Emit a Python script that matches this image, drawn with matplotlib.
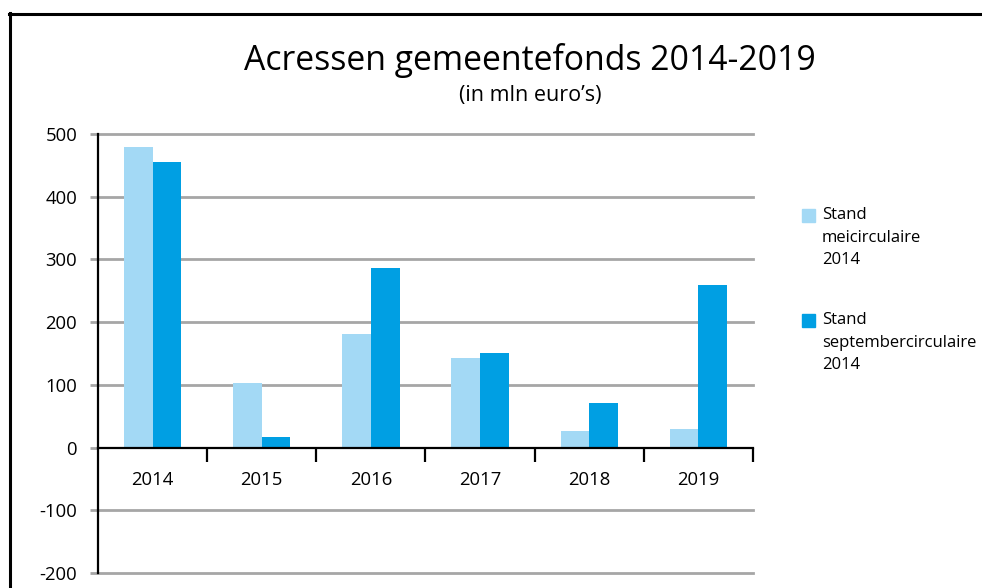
import matplotlib.pyplot as plt
from matplotlib.lines import Line2D
from matplotlib.patches import Rectangle

# data
years = ["2014", "2015", "2016", "2017", "2018", "2019"]
mei = [480, 103, 181, 143, 27, 30]
september = [455, 17, 286, 151, 71, 260]
legend_labels = ["Stand\nmeicirculaire\n2014", "Stand\nseptembercirculaire\n2014"]

light = "#a3d9f5"
dark = "#009fe3"
grid_col = "#a6a6a6"

plt.rcParams['font.family'] = ['Open Sans', 'DejaVu Sans']

fig = plt.figure(figsize=(9.82, 5.88), dpi=100)
ax = fig.add_axes([98/982, 1 - 573/588, (753 - 98)/982, (573 - 134)/588])

x = list(range(len(years)))
w = 0.262
ax.bar([i - w/2 for i in x], mei, width=w, color=light, zorder=3)
ax.bar([i + w/2 for i in x], september, width=w, color=dark, zorder=3)

ax.set_xlim(-0.5, len(years) - 0.5)
ax.set_ylim(-200, 500)

# grid lines
for v in [-200, -100, 100, 200, 300, 400, 500]:
    ax.axhline(v, color=grid_col, lw=2, zorder=1, clip_on=False)

ax.spines['top'].set_visible(False)
ax.spines['right'].set_visible(False)
ax.spines['left'].set_linewidth(1.6)
ax.spines['left'].set_zorder(4)
ax.spines['bottom'].set_position(('data', 0))
ax.spines['bottom'].set_linewidth(1.6)
ax.spines['bottom'].set_zorder(4)

ax.set_yticks([-200, -100, 0, 100, 200, 300, 400, 500])
ax.set_yticklabels(["-200", "-100", "0", "100", "200", "300", "400", "500"])
ax.tick_params(axis='y', length=6, width=2, color=grid_col, labelsize=13.3, pad=9)

ax.set_xticks([i + 0.5 for i in x])
ax.set_xticklabels([])
ax.set_xticks(x, minor=True)
ax.set_xticklabels(years, minor=True)
ax.tick_params(axis='x', which='major', direction='out', length=10, width=1.6, color='black')
ax.tick_params(axis='x', which='minor', length=0, labelsize=13.3, pad=17)

# title
fig.text(530/982, 1 - 61/588, "Acressen gemeentefonds 2014-2019", ha='center', va='center', fontsize=24.3)
fig.text(530/982, 1 - 96/588, "(in mln euro\u2019s)", ha='center', va='center', fontsize=15.5)

# legend
for k, (lab, col) in enumerate(zip(legend_labels, [light, dark])):
    y0 = 215 + k * 105
    fig.patches.append(Rectangle((802/982, 1 - (y0 + 7)/588), 13/982, 13/588,
                                 transform=fig.transFigure, color=col))
    fig.text(822/982, 1 - (y0 - 8)/588, lab, ha='left', va='top', fontsize=12, linespacing=1.55)

# outer frame
fig.add_artist(Line2D([10/982, 10/982], [0, 1 - 13/588], color='black', lw=2.2, transform=fig.transFigure))
fig.add_artist(Line2D([9/982, 1], [1 - 14/588, 1 - 14/588], color='black', lw=2.2, transform=fig.transFigure))

fig.savefig("out.png", dpi=100)
